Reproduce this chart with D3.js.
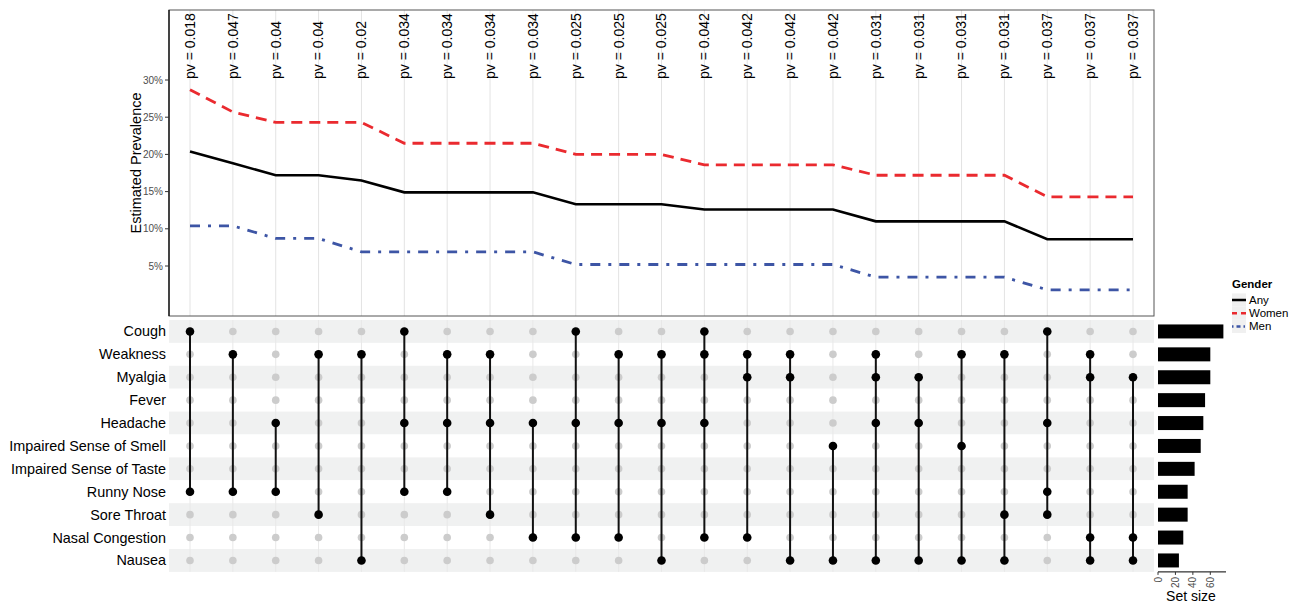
<!DOCTYPE html>
<meta charset="utf-8">
<style>
body { margin: 0; background: #fff; }
text { font-family: "Liberation Sans", Arial, sans-serif; }
</style>
<body>
<script src="https://d3js.org/d3.v7.min.js"></script>
<script>

// symptom sets (matrix rows, top to bottom) and their set sizes
var sets = ["Cough", "Weakness", "Myalgia", "Fever", "Headache", "Impaired Sense of Smell",
            "Impaired Sense of Taste", "Runny Nose", "Sore Throat", "Nasal Congestion", "Nausea"];
var setSizes = [75, 60, 60, 54, 52, 49, 42, 34, 34, 29, 24];

// combinations (matrix columns, left to right)
var combos = [
  ["Cough", "Runny Nose"],
  ["Weakness", "Runny Nose"],
  ["Headache", "Runny Nose"],
  ["Weakness", "Sore Throat"],
  ["Weakness", "Nausea"],
  ["Cough", "Headache", "Runny Nose"],
  ["Weakness", "Headache", "Runny Nose"],
  ["Weakness", "Headache", "Sore Throat"],
  ["Headache", "Nasal Congestion"],
  ["Cough", "Headache", "Nasal Congestion"],
  ["Weakness", "Headache", "Nasal Congestion"],
  ["Weakness", "Headache", "Nausea"],
  ["Cough", "Weakness", "Headache", "Nasal Congestion"],
  ["Weakness", "Myalgia", "Nasal Congestion"],
  ["Weakness", "Myalgia", "Nausea"],
  ["Impaired Sense of Smell", "Nausea"],
  ["Weakness", "Myalgia", "Headache", "Nausea"],
  ["Myalgia", "Headache", "Nausea"],
  ["Weakness", "Impaired Sense of Smell", "Nausea"],
  ["Weakness", "Sore Throat", "Nausea"],
  ["Cough", "Headache", "Runny Nose", "Sore Throat"],
  ["Weakness", "Myalgia", "Nasal Congestion", "Nausea"],
  ["Myalgia", "Nasal Congestion", "Nausea"]
];

var pvLabels = ["0.018", "0.047", "0.04", "0.04", "0.02", "0.034", "0.034", "0.034", "0.034",
                "0.025", "0.025", "0.025", "0.042", "0.042", "0.042", "0.042",
                "0.031", "0.031", "0.031", "0.031", "0.037", "0.037", "0.037"];

// estimated prevalence (%) per combination
var anyPrev   = [20.4, 18.8, 17.2, 17.2, 16.5, 14.9, 14.9, 14.9, 14.9, 13.3, 13.3, 13.3,
                 12.6, 12.6, 12.6, 12.6, 11.0, 11.0, 11.0, 11.0, 8.6, 8.6, 8.6];
var womenPrev = [28.7, 25.7, 24.3, 24.3, 24.3, 21.5, 21.5, 21.5, 21.5, 20.0, 20.0, 20.0,
                 18.6, 18.6, 18.6, 18.6, 17.2, 17.2, 17.2, 17.2, 14.3, 14.3, 14.3];
var menPrev   = [10.4, 10.4, 8.7, 8.7, 6.9, 6.9, 6.9, 6.9, 6.9, 5.2, 5.2, 5.2,
                 5.2, 5.2, 5.2, 5.2, 3.5, 3.5, 3.5, 3.5, 1.8, 1.8, 1.8];
var yTicks = [5, 10, 15, 20, 25, 30];
var sizeTicks = [0, 20, 40, 60];

var W = 1300, H = 603;
var svg = d3.select("body").append("svg").attr("width", W).attr("height", H);

// layout
var panel = {left: 169, right: 1154, top: 10, bottom: 316};
var matTop = 320, rowH = 22.9;

var x = d3.scalePoint().domain(d3.range(combos.length)).range([190, 1133]);
var y = d3.scaleLinear().domain([0, 30]).range([303.2, 80]);
var rowY = d3.scalePoint().domain(sets).range([matTop + rowH / 2, matTop + rowH * (sets.length - 0.5)]);
var xs = d3.scaleLinear().domain([0, 78]).range([1158, 1226]);

// ---- top panel ----
var topG = svg.append("g");

topG.selectAll(".vgrid").data(combos).enter().append("line")
    .attr("x1", function(d, i) { return x(i); })
    .attr("x2", function(d, i) { return x(i); })
    .attr("y1", panel.top).attr("y2", panel.bottom)
    .attr("stroke", "#e3e3e3").attr("stroke-width", 1);

topG.append("rect")
    .attr("x", panel.left).attr("y", panel.top)
    .attr("width", panel.right - panel.left).attr("height", panel.bottom - panel.top)
    .attr("fill", "none").attr("stroke", "#555").attr("stroke-width", 1);

topG.append("line")
    .attr("x1", panel.left).attr("x2", panel.left)
    .attr("y1", panel.top).attr("y2", panel.bottom)
    .attr("stroke", "#000").attr("stroke-width", 1.2);

// y axis ticks
topG.selectAll(".ytick").data(yTicks).enter().append("line")
    .attr("x1", panel.left - 4).attr("x2", panel.left)
    .attr("y1", function(d) { return y(d); }).attr("y2", function(d) { return y(d); })
    .attr("stroke", "#333");
topG.selectAll(".ylab").data(yTicks).enter().append("text")
    .attr("x", panel.left - 6).attr("y", function(d) { return y(d); })
    .attr("dy", "0.35em").attr("text-anchor", "end")
    .attr("font-size", 10).attr("fill", "#4d4d4d")
    .text(function(d) { return d + "%"; });

topG.append("text")
    .attr("transform", "translate(141,163) rotate(-90)")
    .attr("text-anchor", "middle").attr("font-size", 14.5).attr("fill", "#000")
    .text("Estimated Prevalence");

// pv labels
topG.selectAll(".pv").data(pvLabels).enter().append("text")
    .attr("transform", function(d, i) { return "translate(" + x(i) + ",79) rotate(-90)"; })
    .attr("dy", "0.35em").attr("font-size", 14).attr("fill", "#000")
    .text(function(d) { return "pv = " + d; });

var line = d3.line()
    .x(function(d, i) { return x(i); })
    .y(function(d) { return y(d); });

topG.append("path").datum(womenPrev).attr("d", line)
    .attr("fill", "none").attr("stroke", "#ea2a2f").attr("stroke-width", 2.8)
    .attr("stroke-dasharray", "11,7");
topG.append("path").datum(menPrev).attr("d", line)
    .attr("fill", "none").attr("stroke", "#3d55a5").attr("stroke-width", 2.8)
    .attr("stroke-dasharray", "10,8,3,8");
topG.append("path").datum(anyPrev).attr("d", line)
    .attr("fill", "none").attr("stroke", "#000").attr("stroke-width", 2.6);

// ---- legend ----
var leg = svg.append("g");
leg.append("text").attr("x", 1232).attr("y", 288)
    .attr("font-size", 11.5).attr("font-weight", "bold").text("Gender");
var legItems = [
  {name: "Any", color: "#000", dash: null},
  {name: "Women", color: "#ea2a2f", dash: "5,4"},
  {name: "Men", color: "#3d55a5", dash: "1.5,3,4,3"}
];
legItems.forEach(function(d, i) {
  var cy = 300 + i * 13.2;
  leg.append("rect").attr("x", 1232).attr("y", cy - 6.6).attr("width", 14).attr("height", 13.2)
      .attr("fill", "#f0f0f0");
  leg.append("line").attr("x1", 1232).attr("x2", 1246).attr("y1", cy).attr("y2", cy)
      .attr("stroke", d.color).attr("stroke-width", 2.5)
      .attr("stroke-dasharray", d.dash);
  leg.append("text").attr("x", 1249).attr("y", cy).attr("dy", "0.35em")
      .attr("font-size", 11.5).text(d.name);
});

// ---- matrix ----
var mat = svg.append("g");
mat.selectAll(".band").data(sets).enter().append("rect")
    .attr("x", panel.left).attr("y", function(d) { return rowY(d) - rowH / 2; })
    .attr("width", panel.right - panel.left).attr("height", rowH)
    .attr("fill", function(d, i) { return i % 2 === 0 ? "#f0f1f1" : "#fff"; });

mat.selectAll(".mgrid").data(combos).enter().append("line")
    .attr("x1", function(d, i) { return x(i); })
    .attr("x2", function(d, i) { return x(i); })
    .attr("y1", matTop).attr("y2", matTop + rowH * sets.length)
    .attr("stroke", "#e8e8e8").attr("stroke-width", 1);

mat.selectAll(".rowlab").data(sets).enter().append("text")
    .attr("x", 166).attr("y", function(d) { return rowY(d); })
    .attr("dy", "0.35em").attr("text-anchor", "end")
    .attr("font-size", 14.4).attr("fill", "#000")
    .text(function(d) { return d; });

combos.forEach(function(c, i) {
  var g = mat.append("g");
  g.selectAll("circle").data(sets).enter().append("circle")
      .attr("cx", x(i)).attr("cy", function(d) { return rowY(d); })
      .attr("r", 3.8).attr("fill", "#cccccc");
  var ys = c.map(function(s) { return rowY(s); });
  g.append("line")
      .attr("x1", x(i)).attr("x2", x(i))
      .attr("y1", d3.min(ys)).attr("y2", d3.max(ys))
      .attr("stroke", "#111").attr("stroke-width", 2);
  g.selectAll(".on").data(c).enter().append("circle")
      .attr("cx", x(i)).attr("cy", function(d) { return rowY(d); })
      .attr("r", 4.3).attr("fill", "#000");
});

// ---- set size bars ----
var bars = svg.append("g");
bars.selectAll("rect").data(setSizes).enter().append("rect")
    .attr("x", xs(0)).attr("y", function(d, i) { return rowY(sets[i]) - 7; })
    .attr("width", function(d) { return xs(d) - xs(0); }).attr("height", 14)
    .attr("fill", "#000");

var axY = matTop + rowH * sets.length;
bars.append("line").attr("x1", xs(0)).attr("x2", 1226).attr("y1", axY).attr("y2", axY)
    .attr("stroke", "#000");
bars.selectAll(".stick").data(sizeTicks).enter().append("line")
    .attr("x1", function(d) { return xs(d); }).attr("x2", function(d) { return xs(d); })
    .attr("y1", axY).attr("y2", axY + 3).attr("stroke", "#333");
bars.selectAll(".slab").data(sizeTicks).enter().append("text")
    .attr("transform", function(d) { return "translate(" + xs(d) + "," + (axY + 5) + ") rotate(-90)"; })
    .attr("dy", "0.35em").attr("text-anchor", "end")
    .attr("font-size", 10).attr("fill", "#4d4d4d")
    .text(function(d) { return d; });
bars.append("text").attr("x", 1191).attr("y", 601)
    .attr("text-anchor", "middle").attr("font-size", 14).text("Set size");

</script>
</body>
